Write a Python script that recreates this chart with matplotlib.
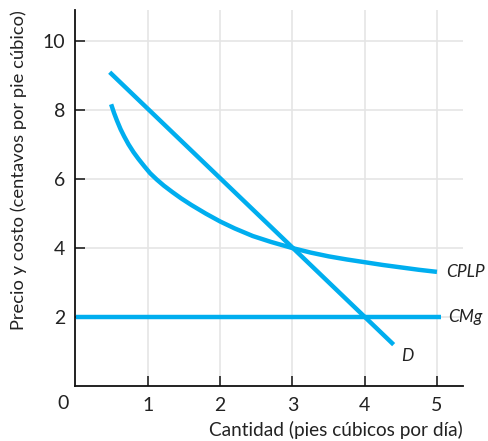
import matplotlib
matplotlib.use("Agg")
import matplotlib.pyplot as plt

# Data
d_x = [0.47, 4.4]
d_y = [9.1, 1.2]

cplp_x = [0.49, 0.53, 0.57, 0.62, 0.67, 0.73, 0.80, 0.87, 0.95, 1.03, 1.12, 1.22, 1.34, 1.46,
          1.60, 1.80, 2.00, 2.20, 2.45, 2.70, 3.00, 3.25, 3.50, 3.75, 4.00, 4.25, 4.50, 4.75, 5.00]
cplp_y = [8.17, 7.92, 7.70, 7.45, 7.24, 7.01, 6.78, 6.58, 6.37, 6.17, 5.99, 5.81, 5.62, 5.44,
          5.25, 5.00, 4.77, 4.57, 4.35, 4.18, 4.00, 3.87, 3.76, 3.67, 3.59, 3.51, 3.44, 3.37, 3.31]

cmg_x = [0.0, 5.05]
cmg_y = [2.0, 2.0]

xticks = [1, 2, 3, 4, 5]
yticks = [2, 4, 6, 8, 10]

line_color = "#00aeef"
font = "Lato"

fig = plt.figure(figsize=(4.89, 4.41), dpi=100)
ax = fig.add_axes([0.1534, 0.1247, 0.7934, 0.8523])

ax.set_xlim(-0.01, 5.36)
ax.set_ylim(0, 10.9)

ax.grid(True, color="#e5e5e5", linewidth=1.2, zorder=0)
ax.set_axisbelow(True)

kw = dict(color=line_color, linewidth=3.2, solid_capstyle="butt",
          solid_joinstyle="round", zorder=3)
ax.plot(d_x, d_y, **kw)
ax.plot(cplp_x, cplp_y, **kw)
ax.plot(cmg_x, cmg_y, **kw)

ax.text(5.13, 3.31, "CPLP", fontsize=12.5, style="italic", family=font,
        color="#222222", va="center", ha="left")
ax.text(5.16, 2.0, "CMg", fontsize=12.5, style="italic", family=font,
        color="#222222", va="center", ha="left")
ax.text(4.5, 0.87, "D", fontsize=12.5, style="italic", family=font,
        color="#222222", va="center", ha="left")

ax.set_xticks(xticks)
ax.set_yticks(yticks)
ax.set_xticklabels([str(v) for v in xticks], family=font, fontsize=14)
ax.set_yticklabels([str(v) for v in yticks], family=font, fontsize=14)
ax.tick_params(direction="in", length=7, width=1.2, colors="#222222", pad=7)
ax.tick_params(axis="x", pad=8)

ax.text(-0.18, -0.5, "0", family=font, fontsize=14, color="#222222",
        ha="center", va="center", clip_on=False)

for side in ["top", "right"]:
    ax.spines[side].set_visible(False)
for side in ["left", "bottom"]:
    ax.spines[side].set_linewidth(1.3)
    ax.spines[side].set_color("#111111")

ax.set_xlabel("Cantidad (pies cúbicos por día)", family=font, fontsize=13.7,
              color="#222222", loc="right", labelpad=5)
ax.set_ylabel("Precio y costo (centavos por pie cúbico)", family=font, fontsize=13.2,
              color="#222222", loc="top", labelpad=11)

fig.savefig("out.png", dpi=100)
